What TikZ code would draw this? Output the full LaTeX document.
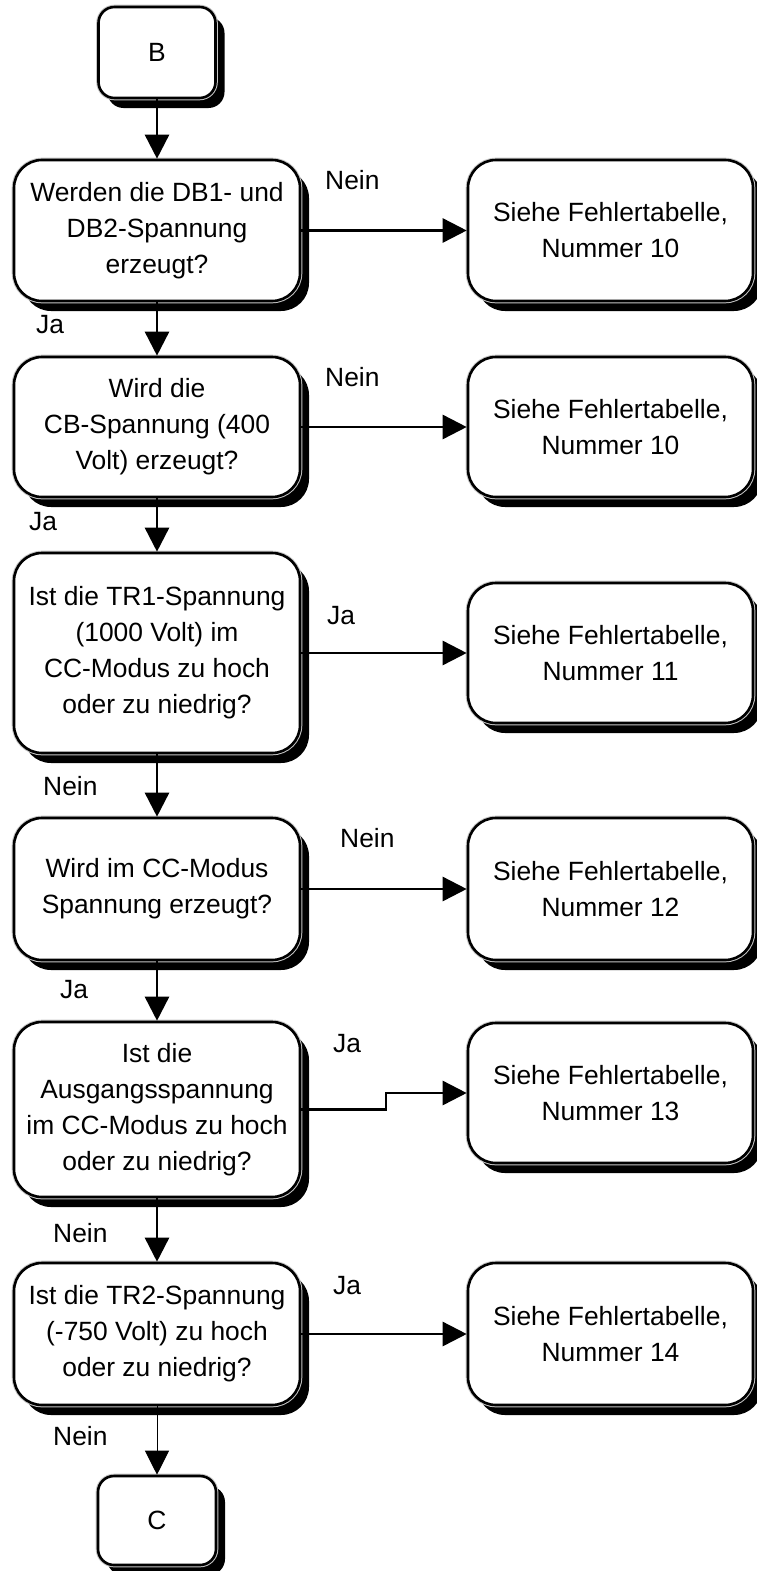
\documentclass[tikz,border=0pt]{standalone}
\usepackage{fontspec}
\setmainfont{Liberation Sans}
\usetikzlibrary{arrows.meta,shadows}
\begin{document}
\begin{tikzpicture}[x=1pt,y=-1pt,
  box/.style={draw=black, line width=2.6pt, fill=white, rounded corners=28pt, inner sep=0pt, align=center,
    font=\fontsize{26.4}{36}\selectfont,
    drop shadow={shadow xshift=9pt, shadow yshift=-10pt, fill=black, opacity=1},
    preaction={draw=gray!45, line width=4.6pt}},
  term/.style={box, rounded corners=16pt},
  lbl/.style={anchor=base west, inner sep=0pt, font=\fontsize{26.4}{36}\selectfont},
  arr/.style={line width=2.6pt, -{Triangle[length=24pt,width=24pt]}},
]
\useasboundingbox (0,0) rectangle (757,1571);

\node[term, minimum width=117pt, minimum height=91pt] (B) at (157,52.5) {B};
\node[box, minimum width=286pt, minimum height=141pt] (d1) at (157,230.5) {Werden die DB1- und\\DB2-Spannung\\erzeugt?};
\node[box, minimum width=285pt, minimum height=141pt] (r1) at (610.5,230.5) {Siehe Fehlertabelle,\\Nummer 10};
\node[box, minimum width=286pt, minimum height=140pt] (d2) at (157,427) {Wird die\\CB-Spannung (400\\Volt) erzeugt?};
\node[box, minimum width=285pt, minimum height=140pt] (r2) at (610.5,427) {Siehe Fehlertabelle,\\Nummer 10};
\node[box, minimum width=286pt, minimum height=200pt] (d3) at (157,653) {Ist die TR1-Spannung\\(1000 Volt) im\\CC-Modus zu hoch\\oder zu niedrig?};
\node[box, minimum width=285pt, minimum height=140pt] (r3) at (610.5,653) {Siehe Fehlertabelle,\\Nummer 11};
\node[box, minimum width=286pt, minimum height=142pt] (d4) at (157,889) {Wird im CC-Modus\\Spannung erzeugt?};
\node[box, minimum width=285pt, minimum height=142pt] (r4) at (610.5,889) {Siehe Fehlertabelle,\\Nummer 12};
\node[box, minimum width=286pt, minimum height=175pt] (d5) at (157,1109.5) {Ist die\\Ausgangsspannung\\im CC-Modus zu hoch\\oder zu niedrig?};
\node[box, minimum width=285pt, minimum height=140pt] (r5) at (610.5,1093) {Siehe Fehlertabelle,\\Nummer 13};
\node[box, minimum width=286pt, minimum height=142pt] (d6) at (157,1334) {Ist die TR2-Spannung\\(-750 Volt) zu hoch\\oder zu niedrig?};
\node[box, minimum width=285pt, minimum height=142pt] (r6) at (610.5,1334) {Siehe Fehlertabelle,\\Nummer 14};
\node[term, minimum width=118pt, minimum height=89pt] (C) at (157,1520.5) {C};

\draw[arr] (B) -- (d1);
\draw[arr] (d1) -- (d2);
\draw[arr] (d2) -- (d3);
\draw[arr] (d3) -- (d4);
\draw[arr] (d4) -- (d5);
\draw[arr] (d5) -- (d6);
\draw[arr, line width=1pt] (d6) -- (C);

\draw[arr] (d1) -- (r1);
\draw[arr] (d2) -- (r2);
\draw[arr] (d3) -- (r3);
\draw[arr] (d4) -- (r4);
\coordinate (k5) at (386,1109.5);
\draw[arr] (d5.east) -- (k5) |- (r5.west);
\draw[arr] (d6) -- (r6);

\node[lbl] (n1) at (325,189) {Nein};
\node[lbl] (j1) at (36,333) {Ja};
\node[lbl] (n2) at (325,386) {Nein};
\node[lbl] (j2) at (29,530) {Ja};
\node[lbl] (j3) at (327,624) {Ja};
\node[lbl] (n3) at (43,795) {Nein};
\node[lbl] (n4) at (340,847) {Nein};
\node[lbl] (j4) at (60,998) {Ja};
\node[lbl] (j5) at (333,1052) {Ja};
\node[lbl] (n5) at (53,1242) {Nein};
\node[lbl] (j6) at (333,1294) {Ja};
\node[lbl] (n6) at (53,1445) {Nein};
\end{tikzpicture}
\end{document}
